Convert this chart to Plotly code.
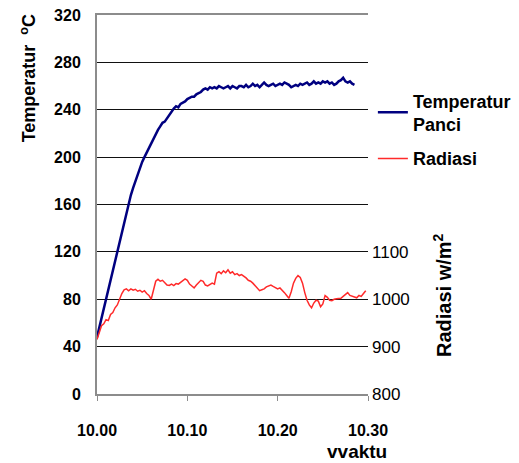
import plotly.graph_objects as go

# ---- data ----
step = 0.25  # minutes between samples
temp_values = [
    48, 56, 64, 72, 80, 89, 97, 106, 114, 121, 128, 137, 146, 154, 161, 168,
    174, 180, 186, 191, 196, 200, 204, 208, 212, 216, 219, 223, 226, 229, 230, 233,
    236, 238, 241, 243, 242, 245, 246, 247, 249, 250, 251, 251, 253, 254, 255, 257,
    258, 257, 259, 258, 259, 258, 260, 259, 258, 259, 260, 258, 260, 259, 258, 260,
    260, 259, 261, 259, 260, 262, 260, 261, 259, 261, 263, 261, 260, 261, 262, 260,
    261, 262, 261, 263, 262, 261, 259, 260, 261, 260, 262, 261, 262, 263, 261, 262,
    264, 262, 263, 262, 264, 263, 264, 262, 263, 261, 262, 264, 265, 267, 264, 263,
    264, 262, 261,
]
rad_values = [
    915, 930, 944, 948, 957, 955, 968, 972, 982, 988, 1002, 1012, 1020, 1022, 1018, 1022,
    1019, 1021, 1017, 1019, 1015, 1018, 1012, 1008, 1000, 1020, 1038, 1042, 1038, 1040, 1036, 1030,
    1029, 1032, 1029, 1033, 1032, 1036, 1041, 1043, 1040, 1032, 1028, 1024, 1030, 1036, 1040, 1038,
    1030, 1028, 1032, 1034, 1032, 1055, 1058, 1054, 1060, 1056, 1062, 1055, 1058, 1052, 1054, 1050,
    1052, 1049, 1045, 1040, 1038, 1034, 1028, 1022, 1018, 1020, 1022, 1026, 1028, 1030, 1027, 1024,
    1022, 1024, 1020, 1014, 1008, 1002, 1016, 1034, 1044, 1050, 1046, 1034, 1014, 998, 988, 982,
    992, 998, 996, 984, 990, 1008, 1004, 998, 997, 1000, 1001, 1002, 1002, 1006, 1010, 1014,
    1008, 1006, 1004, 1003, 1008, 1006, 1012, 1018,
]
temp_time = [i * step for i in range(len(temp_values))]
rad_time = [i * step for i in range(len(rad_values))]

x_tickvals = [0, 10, 20, 30]
x_ticktext = ["10.00", "10.10", "10.20", "10.30"]
y_left_ticks = [0, 40, 80, 120, 160, 200, 240, 280, 320]
y_right_ticks = [800, 900, 1000, 1100]

FONT = "Liberation Sans, Arial, sans-serif"

fig = go.Figure()
fig.add_trace(go.Scatter(
    x=temp_time, y=temp_values, mode="lines", name="Temperatur<br>Panci",
    line=dict(color="#000080", width=2.5), yaxis="y", legendgroup="t",
))
fig.add_trace(go.Scatter(
    x=rad_time, y=rad_values, mode="lines", name="Radiasi",
    line=dict(color="#ff2a2a", width=1.5), yaxis="y2", legendgroup="r",
))

fig.update_layout(
    width=519, height=463,
    margin=dict(l=97, r=151, t=15, b=69, autoexpand=False),
    paper_bgcolor="white", plot_bgcolor="white",
    font=dict(family=FONT, color="black"),
    showlegend=True,
    legend=dict(
        x=1.018, y=0.822, xanchor="left", yanchor="top",
        font=dict(family=FONT, size=18, weight="bold", color="black"),
        bgcolor="rgba(0,0,0,0)", borderwidth=0,
        traceorder="grouped", tracegroupgap=8,
    ),
    xaxis=dict(
        range=[0, 30], tickvals=x_tickvals, ticktext=x_ticktext,
        showgrid=False, zeroline=False,
        showline=True, linecolor="#8c8c8c", linewidth=2, mirror=True,
        ticks="outside", ticklen=5, tickcolor="#8c8c8c",
        ticklabelstandoff=16,
        tickfont=dict(family=FONT, size=16, weight="bold", color="black"),
    ),
    yaxis=dict(
        range=[0, 320], tickvals=y_left_ticks,
        showgrid=True, gridcolor="#111", gridwidth=1.3, zeroline=False,
        showline=True, linecolor="#8c8c8c", linewidth=2,
        ticks="", ticklabelstandoff=11,
        tickfont=dict(family=FONT, size=16, weight="bold", color="black"),
    ),
    yaxis2=dict(
        range=[800, 1600], tickvals=y_right_ticks,
        overlaying="y", side="right", showgrid=False, zeroline=False,
        showline=False, ticks="", ticklabelstandoff=3,
        tickfont=dict(family=FONT, size=17, color="black"),
    ),
    annotations=[
        dict(text="Temperatur  <sup>o</sup>C", xref="paper", yref="paper",
             x=-0.253, y=0.834, xanchor="center", yanchor="middle",
             textangle=-90, showarrow=False,
             font=dict(family=FONT, size=18, weight="bold", color="black")),
        dict(text="Radiasi w/m<sup>2</sup>", xref="paper", yref="paper",
             x=1.273, y=0.261, xanchor="center", yanchor="middle",
             textangle=-90, showarrow=False,
             font=dict(family=FONT, size=20, weight="bold", color="black")),
        dict(text="vvaktu", xref="paper", yref="paper",
             x=0.959, y=-0.153, xanchor="center", yanchor="middle",
             showarrow=False,
             font=dict(family=FONT, size=19, weight="bold", color="black")),
    ],
)

fig.write_html("out.html")
